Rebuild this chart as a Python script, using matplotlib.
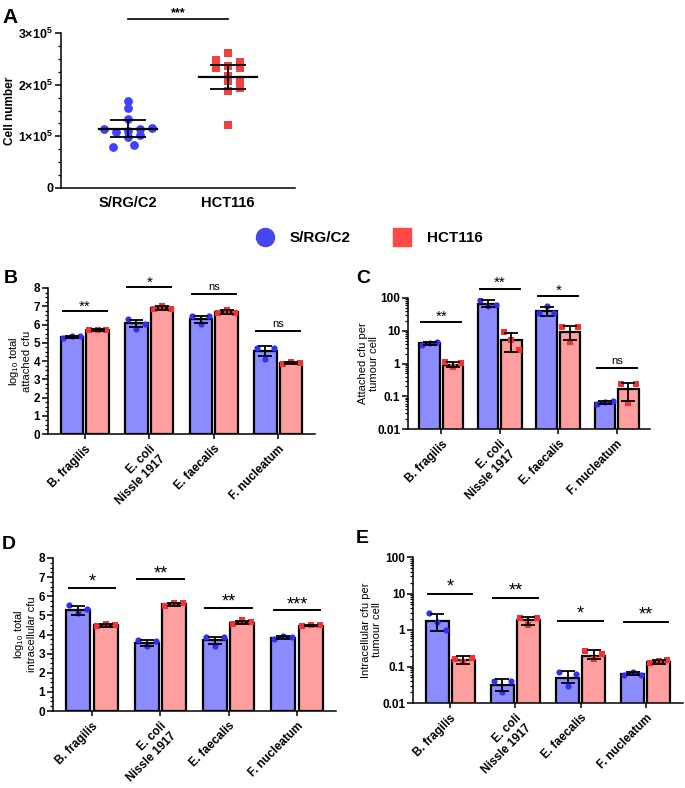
import numpy as np
import matplotlib
matplotlib.use("Agg")
import matplotlib.pyplot as plt
from matplotlib.lines import Line2D
from matplotlib.ticker import AutoMinorLocator, LogLocator, NullFormatter

plt.rcParams['font.family'] = ['Liberation Sans', 'DejaVu Sans']
plt.rcParams['mathtext.fontset'] = 'custom'
plt.rcParams['mathtext.rm'] = 'Liberation Sans'
plt.rcParams['mathtext.bf'] = 'Liberation Sans:bold'
plt.rcParams['axes.linewidth'] = 1.1

# Colours
BLUE_BAR = '#8c8cff'
RED_BAR = '#ff9e9e'
BLUE_PT = '#3030f5'
RED_PT = '#f53030'

# ---- Panel A data: cell numbers ----
cell_lines = ['S/RG/C2', 'HCT116']
a_srg = [1.68e5, 1.55e5, 1.34e5, 1.15e5, 1.08e5, 1.10e5, 1.15e5, 1.16e5, 0.99e5, 1.02e5, 0.79e5, 0.83e5]
a_hct = [2.61e5, 2.48e5, 2.43e5, 2.37e5, 2.32e5, 2.32e5, 2.17e5, 2.07e5, 2.07e5, 1.94e5, 1.87e5, 1.21e5]
a_mean = [1.15e5, 2.15e5]
a_lo = [0.99e5, 1.92e5]
a_hi = [1.32e5, 2.39e5]
a_sig = '***'
a_sig_y = 3.27e5

# jitter positions of the dots (fraction of category spacing)
a_jit_srg = [0.0, 0.0, 0.0, -0.24, -0.12, 0.0, 0.12, 0.24, 0.0, 0.12, -0.15, 0.06]
a_jit_hct = [0.0, -0.12, 0.12, 0.0, -0.12, 0.12, 0.0, 0.0, 0.12, 0.12, 0.0, 0.0]

# ---- Bar panels ----
bacteria = ['B. fragilis', 'E. coli\nNissle 1917', 'E. faecalis', 'F. nucleatum']

# B: log10 total attached cfu
b_blue = [5.31, 6.08, 6.32, 4.56]
b_red = [5.71, 6.90, 6.68, 3.90]
b_blue_pts = [[5.26, 5.36, 5.35], [6.30, 5.75, 6.04], [6.45, 6.03, 6.45], [4.71, 4.12, 4.71]]
b_red_pts = [[5.70, 5.72, 5.68], [6.85, 7.03, 6.85], [6.63, 6.81, 6.63], [3.85, 3.97, 3.88]]
b_blue_err = [[5.25, 5.37], [5.85, 6.27], [6.10, 6.48], [4.25, 4.80]]
b_red_err = [[5.66, 5.76], [6.82, 7.00], [6.60, 6.78], [3.84, 3.96]]
b_sig = ['**', '*', 'ns', 'ns']
b_sig_y = [6.76, 8.06, 7.67, 5.66]

# C: attached cfu per tumour cell
c_blue = [4.2, 67, 39, 0.061]
c_red = [0.91, 5.1, 9.1, 0.164]
c_blue_pts = [[3.8, 4.3, 4.4], [87, 58, 60], [36, 56, 35], [0.058, 0.069, 0.072]]
c_red_pts = [[1.14, 0.77, 1.07], [8.9, 5.1, 2.5], [12.6, 4.5, 12.6], [0.233, 0.061, 0.233]]
c_blue_err = [[3.8, 4.5], [52, 88], [28, 53], [0.058, 0.072]]
c_red_err = [[0.77, 1.1], [2.2, 8.6], [5.1, 13.9], [0.074, 0.26]]
c_sig = ['**', '**', '*', 'ns']
c_sig_y = [18.4, 193, 112, 0.72]

# D: log10 total intracellular cfu
d_blue = [5.30, 3.55, 3.69, 3.83]
d_red = [4.48, 5.57, 4.62, 4.44]
d_blue_pts = [[5.52, 5.12, 5.31], [3.69, 3.40, 3.64], [3.87, 3.40, 3.87], [3.78, 3.90, 3.87]]
d_red_pts = [[4.43, 4.56, 4.48], [5.47, 5.66, 5.66], [4.56, 4.74, 4.65], [4.43, 4.51, 4.48]]
d_blue_err = [[5.00, 5.47], [3.40, 3.73], [3.52, 3.87], [3.78, 3.90]]
d_red_err = [[4.40, 4.56], [5.47, 5.66], [4.55, 4.72], [4.42, 4.50]]
d_sig = ['*', '**', '**', '***']
d_sig_y = [6.43, 6.88, 5.38, 5.26]

# E: intracellular cfu per tumour cell
e_blue = [1.8, 0.032, 0.048, 0.064]
e_red = [0.148, 1.84, 0.20, 0.13]
e_blue_pts = [[2.92, 1.62, 1.02], [0.041, 0.020, 0.041], [0.069, 0.030, 0.062], [0.060, 0.071, 0.060]]
e_red_pts = [[0.16, 0.13, 0.17], [2.2, 1.4, 2.2], [0.26, 0.16, 0.22], [0.124, 0.14, 0.15]]
e_blue_err = [[0.92, 2.8], [0.022, 0.045], [0.035, 0.074], [0.058, 0.071]]
e_red_err = [[0.12, 0.20], [1.35, 2.3], [0.16, 0.28], [0.12, 0.15]]
e_sig = ['*', '**', '*', '**']
e_sig_y = [9.9, 7.4, 1.73, 1.66]

W, H = 685, 788
fig = plt.figure(figsize=(W / 100, H / 100), dpi=100)


def px_axes(left, top, right, bottom):
    return fig.add_axes([left / W, 1 - bottom / H, (right - left) / W, (bottom - top) / H])


def style_axes(ax, size=8):
    ax.spines['top'].set_visible(False)
    ax.spines['right'].set_visible(False)
    ax.tick_params(axis='both', width=1.1, length=4, labelsize=size, pad=1.5)
    ax.tick_params(axis='y', which='minor', width=0.9, length=2.5)
    for lab in ax.get_yticklabels():
        lab.set_fontweight('bold')


# ---------------- Panel A ----------------
axA = px_axes(61, 33, 295, 188)
for i, (vals, jit, col, mk) in enumerate([(a_srg, a_jit_srg, '#4040ff', 'o'), (a_hct, a_jit_hct, '#f04040', 's')]):
    axA.scatter(np.array(jit) + i, vals, s=40, marker=mk, color=col, zorder=2, linewidths=0)
    axA.plot([i - 0.29, i + 0.29], [a_mean[i], a_mean[i]], color='black', lw=1.6, zorder=3)
axA.errorbar([0, 1], a_mean, yerr=[np.array(a_mean) - np.array(a_lo), np.array(a_hi) - np.array(a_mean)],
             fmt='none', ecolor='black', elinewidth=1.3, capsize=13, capthick=1.3, zorder=3)
axA.set_xlim(-0.67, 1.67)
axA.set_ylim(0, 3e5)
axA.set_yticks([0, 1e5, 2e5, 3e5])
axA.set_yticklabels(['0', r'$\mathbf{1{\times}10^{5}}$', r'$\mathbf{2{\times}10^{5}}$', r'$\mathbf{3{\times}10^{5}}$'])
axA.yaxis.set_minor_locator(AutoMinorLocator(4))
axA.set_xticks([0, 1])
axA.set_xticklabels(cell_lines, fontsize=10, fontweight='bold')
style_axes(axA, size=9)
axA.tick_params(axis='x', labelsize=10.5, length=0, pad=6)
axA.set_ylabel('Cell number', fontsize=8.5, fontweight='bold', labelpad=2)
axA.plot([0, 1], [a_sig_y, a_sig_y], color='black', lw=1.2, clip_on=False)
axA.text(0.5, a_sig_y, a_sig, ha='center', va='bottom', fontsize=9, fontweight='bold', clip_on=False)
fig.text(2 / W, 1 - 8 / H, 'A', fontsize=15, fontweight='bold', va='top', ha='left')

# ---------------- Legend ----------------
handles = [Line2D([], [], marker='o', color='#4646f0', linestyle='none', markersize=13),
           Line2D([], [], marker='s', color='#ff4848', linestyle='none', markersize=12.5)]
fig.legend(handles, cell_lines, loc='center', bbox_to_anchor=(366 / W, 1 - 238 / H), ncol=2,
           frameon=False, handletextpad=0.6, columnspacing=2.4,
           prop={'family': 'Liberation Sans', 'weight': 'bold', 'size': 11})


# ---------------- Bar panels ----------------
def bar_panel(ax, blue, red, blue_pts, red_pts, blue_err, red_err, sig, sig_y, log, sig_size, ylab, lpad):
    x = np.arange(len(blue))
    off, w = 0.2, 0.35
    for vals, pts, err, shift, fc, pc, mk in [(blue, blue_pts, blue_err, -off, BLUE_BAR, BLUE_PT, 'o'),
                                               (red, red_pts, red_err, off, RED_BAR, RED_PT, 's')]:
        xs = x + shift
        ax.bar(xs, vals, width=w, color=fc, edgecolor='black', linewidth=1.6, zorder=2)
        for xi, p in zip(xs, pts):
            ax.scatter(xi + np.array([-0.13, 0.0, 0.13]), p, s=20, marker=mk, color=pc, linewidths=0, zorder=3)
        lo = np.array([e[0] for e in err])
        hi = np.array([e[1] for e in err])
        ax.errorbar(xs, vals, yerr=[np.array(vals) - lo, hi - np.array(vals)], fmt='none',
                    ecolor='black', elinewidth=1.3, capsize=5, capthick=1.3, zorder=4)
    for xi, s, y in zip(x, sig, sig_y):
        ax.plot([xi - 0.34, xi + 0.34], [y, y], color='black', lw=1.4, clip_on=False, zorder=5)
        if s == 'ns':
            ax.text(xi, y * (1.15 if log else 1) + (0 if log else 0.12), s, ha='center', va='bottom',
                    fontsize=8, clip_on=False)
        else:
            ax.text(xi, y * (0.9 if log else 1) + (0 if log else -0.15), s, ha='center', va='bottom',
                    fontsize=sig_size, clip_on=False)
    ax.set_xlim(-0.57, 3.57)
    if log:
        ax.set_yscale('log')
        ax.set_ylim(0.01, 100)
        ax.set_yticks([0.01, 0.1, 1, 10, 100])
        ax.set_yticklabels(['0.01', '0.1', '1', '10', '100'])
        ax.yaxis.set_minor_locator(LogLocator(base=10, subs=np.arange(2, 10)))
        ax.yaxis.set_minor_formatter(NullFormatter())
    else:
        ax.set_ylim(0, 8)
        ax.set_yticks(range(9))
        ax.yaxis.set_minor_locator(AutoMinorLocator(4))
    ax.set_xticks(x)
    ax.set_xticklabels(bacteria, rotation=45, ha='right', va='top', rotation_mode='anchor',
                       multialignment='right', fontsize=8.5, fontweight='bold')
    style_axes(ax, size=8.5)
    ax.tick_params(axis='x', length=3.5, pad=3)
    ax.set_ylabel(ylab, fontsize=8, labelpad=lpad, linespacing=1.1)


axB = px_axes(48, 288, 315, 434)
bar_panel(axB, b_blue, b_red, b_blue_pts, b_red_pts, b_blue_err, b_red_err, b_sig, b_sig_y,
          False, 11, 'log$_{10}$ total\nattached cfu', 1.5)
fig.text(4 / W, 1 - 270 / H, 'B', fontsize=14, fontweight='bold', va='top', ha='left')

axC = px_axes(408, 298, 650, 429)
bar_panel(axC, c_blue, c_red, c_blue_pts, c_red_pts, c_blue_err, c_red_err, c_sig, c_sig_y,
          True, 11, 'Attached cfu per\ntumour cell', -1)
fig.text(356 / W, 1 - 270 / H, 'C', fontsize=14, fontweight='bold', va='top', ha='left')

axD = px_axes(53, 558, 336, 711)
bar_panel(axD, d_blue, d_red, d_blue_pts, d_red_pts, d_blue_err, d_red_err, d_sig, d_sig_y,
          False, 13, 'log$_{10}$ total\nintracellular cfu', 1.5)
fig.text(2 / W, 1 - 536 / H, 'D', fontsize=14, fontweight='bold', va='top', ha='left')

axE = px_axes(413, 557, 683, 703)
bar_panel(axE, e_blue, e_red, e_blue_pts, e_red_pts, e_blue_err, e_red_err, e_sig, e_sig_y,
          True, 13, 'Intracellular cfu per\ntumour cell', 0)
fig.text(356 / W, 1 - 530 / H, 'E', fontsize=14, fontweight='bold', va='top', ha='left')

fig.savefig('out.png', dpi=100)
